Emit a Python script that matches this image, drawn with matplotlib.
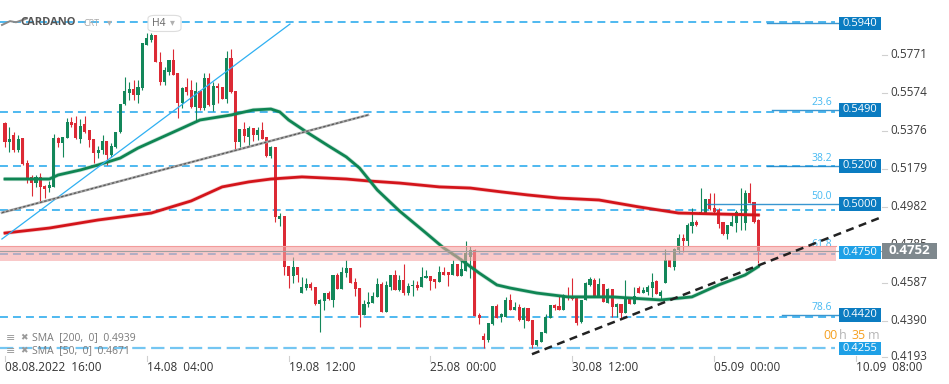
import numpy as np
import matplotlib.pyplot as plt
import matplotlib.transforms as mtransforms
from matplotlib.patches import Rectangle, FancyBboxPatch

plt.rcParams['font.family'] = ['Open Sans', 'DejaVu Sans']

# ---------------- data (H4 candles, CARDANO) ----------------
opens = [
    .5417, .5319, .5355, .5277, .5339, .5209, .5137, .5105, .5137, .5090,
    .5079, .5085, .5339, .5313, .5339, .5423, .5417, .5334, .5412, .5381,
    .5334, .5261, .5277, .5324, .5251, .5293, .5371, .5516, .5573, .5594,
    .5563, .5599, .5823, .5849, .5875, .5735, .5631, .5683, .5745, .5677,
    .5521, .5605, .5589, .5501, .5584, .5495, .5651, .5511, .5610, .5605,
    .5542, .5755, .5584, .5319, .5386, .5345, .5391, .5355, .5381, .5345,
    .5246, .5293, .4918, .4934, .4674, .4622, .4669, .4533, .4559, .4580,
    .4565, .4476, .4492, .4533, .4497, .4627, .4554, .4637, .4663, .4591,
    .4559, .4419, .4476, .4481, .4513, .4580, .4435, .4565, .4627, .4549,
    .4601, .4533, .4570, .4575, .4565, .4611, .4622, .4606, .4591, .4643,
    .4643, .4627, .4684, .4622, .4648, .4721, .4757, .4419, .4310, .4289,
    .4372, .4466, .4409, .4409, .4497, .4445, .4461, .4393, .4455, .4393,
    .4263, .4279, .4325, .4403, .4471, .4466, .4445, .4518, .4513, .4513,
    .4383, .4497, .4575, .4601, .4513, .4580, .4481, .4554, .4461, .4476,
    .4429, .4502, .4476, .4559, .4533, .4539, .4559, .4596, .4518, .4585,
    .4705, .4669, .4757, .4819, .4804, .4882, .4903, .4949, .4949, .5022,
    .4975, .4965, .4903, .4840, .4882, .4897, .4939, .4897, .5053, .5007,
    .4913,
]
highs = [
    .5423, .5397, .5371, .5355, .5339, .5225, .5147, .5147, .5157, .5095,
    .5116, .5360, .5345, .5345, .5443, .5449, .5454, .5438, .5454, .5381,
    .5334, .5298, .5355, .5324, .5313, .5371, .5516, .5657, .5631, .5641,
    .5641, .5833, .5885, .5885, .5875, .5787, .5709, .5745, .5802, .5677,
    .5605, .5651, .5641, .5631, .5589, .5677, .5677, .5631, .5625, .5605,
    .5792, .5802, .5584, .5386, .5423, .5402, .5391, .5397, .5423, .5345,
    .5298, .5293, .4949, .4934, .4674, .4721, .4669, .4617, .4611, .4591,
    .4565, .4502, .4533, .4544, .4627, .4637, .4669, .4705, .4663, .4611,
    .4559, .4497, .4539, .4539, .4611, .4591, .4596, .4627, .4653, .4627,
    .4684, .4585, .4601, .4596, .4669, .4653, .4622, .4606, .4674, .4669,
    .4643, .4705, .4684, .4715, .4804, .4778, .4762, .4429, .4325, .4377,
    .4466, .4476, .4429, .4513, .4528, .4487, .4476, .4461, .4455, .4393,
    .4289, .4331, .4424, .4471, .4476, .4518, .4528, .4565, .4611, .4513,
    .4497, .4591, .4617, .4611, .4611, .4580, .4559, .4554, .4481, .4476,
    .4601, .4513, .4565, .4570, .4565, .4575, .4637, .4601, .4549, .4762,
    .4705, .4767, .4840, .4840, .4897, .4975, .4913, .5079, .5022, .5053,
    .5053, .4975, .4903, .4887, .4939, .4965, .5079, .5069, .5105, .5007,
    .4918,
]
lows = [
    .5293, .5267, .5267, .5267, .5199, .5105, .5038, .5085, .5007, .5027,
    .5059, .5085, .5293, .5241, .5339, .5397, .5334, .5313, .5365, .5293,
    .5209, .5235, .5256, .5199, .5241, .5287, .5365, .5511, .5537, .5537,
    .5521, .5589, .5823, .5839, .5735, .5615, .5615, .5667, .5667, .5443,
    .5495, .5563, .5495, .5423, .5485, .5485, .5506, .5480, .5521, .5542,
    .5521, .5573, .5277, .5293, .5319, .5298, .5324, .5329, .5334, .5241,
    .5235, .4903, .4882, .4627, .4559, .4585, .4591, .4533, .4549, .4549,
    .4471, .4331, .4445, .4497, .4461, .4554, .4554, .4617, .4585, .4518,
    .4357, .4419, .4461, .4481, .4513, .4435, .4435, .4549, .4549, .4544,
    .4523, .4523, .4518, .4549, .4565, .4611, .4549, .4559, .4591, .4627,
    .4570, .4627, .4622, .4622, .4648, .4611, .4414, .4372, .4247, .4279,
    .4367, .4403, .4383, .4409, .4445, .4445, .4388, .4351, .4388, .4247,
    .4258, .4279, .4325, .4403, .4445, .4445, .4445, .4497, .4497, .4367,
    .4377, .4497, .4570, .4513, .4513, .4487, .4481, .4409, .4409, .4398,
    .4429, .4476, .4476, .4533, .4533, .4523, .4513, .4528, .4497, .4585,
    .4669, .4653, .4741, .4746, .4778, .4845, .4882, .4949, .4949, .4965,
    .4949, .4871, .4835, .4814, .4882, .4851, .4861, .4861, .5001, .4897,
    .4689,
]
closes = [
    .5319, .5334, .5277, .5334, .5204, .5131, .5105, .5137, .5085, .5074,
    .5095, .5339, .5313, .5345, .5423, .5407, .5339, .5402, .5371, .5329,
    .5261, .5277, .5324, .5251, .5298, .5371, .5516, .5584, .5594, .5563,
    .5605, .5833, .5859, .5875, .5735, .5631, .5693, .5745, .5667, .5521,
    .5599, .5579, .5501, .5584, .5495, .5651, .5511, .5610, .5599, .5542,
    .5755, .5579, .5319, .5386, .5350, .5391, .5355, .5381, .5334, .5246,
    .5293, .4929, .4934, .4669, .4622, .4669, .4627, .4565, .4580, .4559,
    .4476, .4497, .4533, .4502, .4627, .4554, .4643, .4663, .4585, .4554,
    .4419, .4476, .4487, .4518, .4580, .4435, .4575, .4627, .4549, .4601,
    .4533, .4570, .4575, .4559, .4617, .4622, .4596, .4591, .4643, .4627,
    .4627, .4684, .4622, .4658, .4741, .4757, .4414, .4403, .4289, .4377,
    .4466, .4403, .4424, .4497, .4445, .4461, .4393, .4455, .4388, .4263,
    .4289, .4331, .4409, .4471, .4455, .4445, .4523, .4507, .4502, .4377,
    .4497, .4585, .4606, .4518, .4580, .4487, .4554, .4461, .4476, .4429,
    .4507, .4476, .4518, .4533, .4549, .4565, .4591, .4528, .4539, .4705,
    .4669, .4762, .4819, .4804, .4887, .4903, .4887, .4955, .5022, .4970,
    .4955, .4892, .4840, .4887, .4903, .4955, .4949, .5053, .5001, .4903,
    .4752,
]

# moving averages (candle index, price)
sma200_idx = [0, 10, 21, 33, 42, 49, 55, 60, 67, 77, 82, 89, 98, 105, 112, 118, 125, 134, 143, 152, 161, 170]
sma200_val = [.4845, .4871, .4913, .4949, .5012, .5085, .5111, .5126, .5137, .5126, .5116, .5105,
              .5085, .5079, .5059, .5043, .5027, .5017, .4981, .4949, .4944, .4939]
sma50_idx = [0, 10, 12, 17, 21, 26, 30, 35, 40, 44, 51, 56, 60, 62, 64, 68, 73, 77, 80, 84,
             89, 95, 99, 102, 107, 111, 114, 120, 127, 137, 148, 155, 161, 167, 170]
sma50_val = [.5126, .5126, .5147, .5173, .5199, .5235, .5287, .5339, .5391, .5433, .5459, .5485,
             .5490, .5475, .5433, .5371, .5298, .5241, .5183, .5069, .4960, .4845, .4767, .4721,
             .4637, .4575, .4559, .4533, .4513, .4513, .4497, .4513, .4575, .4627, .4671]

# drawn objects
blue_trend_x, blue_trend_y = [-0.7, 64.3], [0.4814, 0.5932]
gray_trend_x, gray_trend_y = [-0.7, 81.9], [0.4951, 0.5459]
black_trend_x, black_trend_y = [118.9, 197.7], [0.4215, 0.4927]

level_lines = [0.5940, 0.5475, 0.5194, 0.4965, 0.4736, 0.4410]
bottom_level = 0.4246
zone_low, zone_high = 0.4700, 0.4778
last_price = 0.4752

box_values = [0.5940, 0.5490, 0.5200, 0.5000, 0.4750, 0.4420, 0.4255]
box_y = [0.5936, 0.5485, 0.5194, 0.4996, 0.4743, 0.4419, 0.4246]
box_light = [False, False, False, False, True, False, True]
fib_names = ["", "23.6", "38.2", "50.0", "61.8", "78.6", ""]
fib_start = [767, 772, 767, 707, None, 782, None]  # px where fib line starts

y_ticks = [0.5771, 0.5574, 0.5376, 0.5179, 0.4982, 0.4785, 0.4587, 0.4390, 0.4193]
x_tick_idx = [0, 32, 64, 96, 128, 160, 192]
x_tick_labels = ["08.08.2022  16:00", "14.08  04:00", "19.08  12:00", "25.08  00:00",
                 "30.08  12:00", "05.09  00:00", "10.09  08:00"]

GREEN = '#13875a'
RED = '#dc2a35'
LVL = '#1ea5ec'
W, H = 949, 384

fig = plt.figure(figsize=(W / 100, H / 100), dpi=100)
ax = fig.add_axes([0, 0, 1, 1])
ax.set_xlim(-1.13, 213.0)
ax.set_ylim(0.4060, 0.6057)
ax.axis('off')
bt = mtransforms.blended_transform_factory(ax.transAxes, ax.transData)
bx = mtransforms.blended_transform_factory(ax.transData, ax.transAxes)

# horizontal levels
for lv in level_lines:
    ax.plot([0, 835 / W], [lv, lv], transform=bt, color=LVL, lw=1.1,
            dashes=(5.2, 3.3), zorder=1)
ax.plot([0, 835 / W], [bottom_level, bottom_level], transform=bt, color='#74c6f2',
        lw=1.6, dashes=(6, 2.5), zorder=1)

# candles
o = np.array(opens); hi = np.array(highs); lo = np.array(lows); c = np.array(closes)
idx = np.arange(len(o))
col = np.where(c >= o, GREEN, RED)
ax.vlines(idx, lo, hi, colors=col, lw=0.8, zorder=3)
ax.bar(idx, np.maximum(np.abs(c - o), 0.00035), bottom=np.minimum(o, c), width=0.7,
       color=col, linewidth=0, zorder=4)

# SMAs
ax.plot(sma200_idx, sma200_val, color=RED, lw=3.0, alpha=0.25, zorder=5, solid_capstyle='round')
ax.plot(sma200_idx, sma200_val, color='#d3141a', lw=2.0, zorder=5)
ax.plot(sma50_idx, sma50_val, color=GREEN, lw=3.0, alpha=0.25, zorder=5, solid_capstyle='round')
ax.plot(sma50_idx, sma50_val, color='#0f8553', lw=2.0, zorder=5)

# trend lines
ax.plot(blue_trend_x, blue_trend_y, color='#2fb0f2', lw=0.9, zorder=6)
ax.plot(gray_trend_x, gray_trend_y, color='#a8a8a8', lw=1.8, zorder=6)
ax.plot(gray_trend_x, gray_trend_y, color='#5a5a5a', lw=0.9, dashes=(2, 1.5), zorder=6)
ax.plot(black_trend_x, black_trend_y, color='#222222', lw=1.8, dashes=(3.2, 2.2), zorder=9)

# fib lines and labels
for v, yv, name, xs in zip(box_values, box_y, fib_names, fib_start):
    if xs is not None:
        ax.plot([xs / W, 839 / W], [yv, yv], transform=bt, color='#1784c8', lw=1.0,
                alpha=0.85, zorder=6)
    if name:
        ax.text(832 / W, yv + 0.0012, name, transform=bt, ha='right', va='bottom',
                fontsize=7.5, color='#45b9f2', zorder=6)

# zone
ax.add_patch(Rectangle((0, zone_low), 836 / W, zone_high - zone_low, transform=bt,
                       facecolor='#f5a5a5', alpha=0.6, edgecolor='none', zorder=8))
ax.plot([0, 836 / W], [zone_high, zone_high], transform=bt, color='#f29b9b', lw=0.8, zorder=8)
ax.plot([0, 882 / W], [last_price, last_price], transform=bt, color='#a0a0a0', lw=0.8, zorder=8)

# right price scale
for t in y_ticks:
    yy = t + 0.0010 if t == y_ticks[-1] else t
    ax.text(890 / W, yy, f"{t:.4f}", transform=bt, ha='left', va='center',
            fontsize=8.5, color='#3a3a3a', zorder=7)
    ax.plot([882 / W, 887 / W], [yy, yy], transform=bt, color='#d0d0d0', lw=0.8, zorder=7)

bh = 0.0070
for v, yv, light in zip(box_values, box_y, box_light):
    ax.add_patch(Rectangle((839 / W, yv - bh / 2), 42 / W, bh, transform=bt,
                           facecolor='#1ea0e6' if light else '#0b7cc1',
                           edgecolor='none', zorder=10))
    ax.text(860 / W, yv, f"{v:.4f}", transform=bt, ha='center', va='center',
            fontsize=8, color='white', zorder=11)

gh = 0.0083
ax.add_patch(Rectangle((882 / W, last_price - gh / 2), 55 / W, gh, transform=bt,
                       facecolor='#7e888d', edgecolor='none', zorder=10))
ax.text(909 / W, last_price, f"{last_price:.4f}", transform=bt, ha='center', va='center',
        fontsize=9.5, fontweight='bold', color='white', zorder=11)

# time axis
for ti, lab in zip(x_tick_idx, x_tick_labels):
    ax.plot([ti, ti], [0.060, 0.072], transform=bx, color='#d0d0d0', lw=0.8)
    ax.text(ti, 0.0417, lab, transform=bx, ha='left', va='center',
            fontsize=8.5, color='#333333')

# candle timer
for xp, s, cl in [(823, "00", '#f5a020'), (838.5, "h", '#b5b5b5'),
                  (852, "35", '#f5a020'), (868, "m", '#b5b5b5')]:
    ax.text(xp / W, 0.127, s, transform=ax.transAxes, ha='left', va='center',
            fontsize=9, color=cl, zorder=9)

# legend of indicators
for yy, lab in [(0.1198, "SMA  [200,  0]  0.4939"), (0.0859, "SMA  [50,  0]  0.4671")]:
    ax.text(6 / W, yy, "≡", transform=ax.transAxes, ha='left', va='center',
            fontsize=8, color='#9a9a9a', family='DejaVu Sans')
    ax.text(20 / W, yy, "✖", transform=ax.transAxes, ha='left', va='center',
            fontsize=6.5, color='#9a9a9a', family='DejaVu Sans')
    ax.text(32 / W, yy, lab, transform=ax.transAxes, ha='left', va='center',
            fontsize=7.5, color='#7a7a7a')

# header
ax.plot([2 / W, 10 / W, 16 / W, 27 / W], [0.935, 0.945, 0.942, 0.952],
        transform=ax.transAxes, color='#8a8a8a', lw=1.4)
ax.text(20 / W, 0.941, "CARDANO", transform=ax.transAxes, ha='left', va='center',
        fontsize=8, fontweight='bold', color='#555555')
ax.text(83 / W, 0.940, "CRT", transform=ax.transAxes, ha='left', va='center',
        fontsize=6.5, color='#aaaaaa')
ax.text(107 / W, 0.942, "▾", transform=ax.transAxes, ha='left', va='center',
        fontsize=7, color='#b0b0b0', family='DejaVu Sans')
ax.add_patch(FancyBboxPatch((148 / W, 0.918), 33 / W, 0.042, transform=ax.transAxes,
                            boxstyle='round,pad=0,rounding_size=0.008',
                            facecolor='white', edgecolor='#dddddd', lw=0.8, zorder=2))
ax.text(152 / W, 0.940, "H4", transform=ax.transAxes, ha='left', va='center',
        fontsize=7.5, color='#666666', zorder=3)
ax.text(170 / W, 0.942, "▾", transform=ax.transAxes, ha='left', va='center',
        fontsize=7, color='#b0b0b0', family='DejaVu Sans', zorder=3)

fig.savefig('out.png', dpi=100)
